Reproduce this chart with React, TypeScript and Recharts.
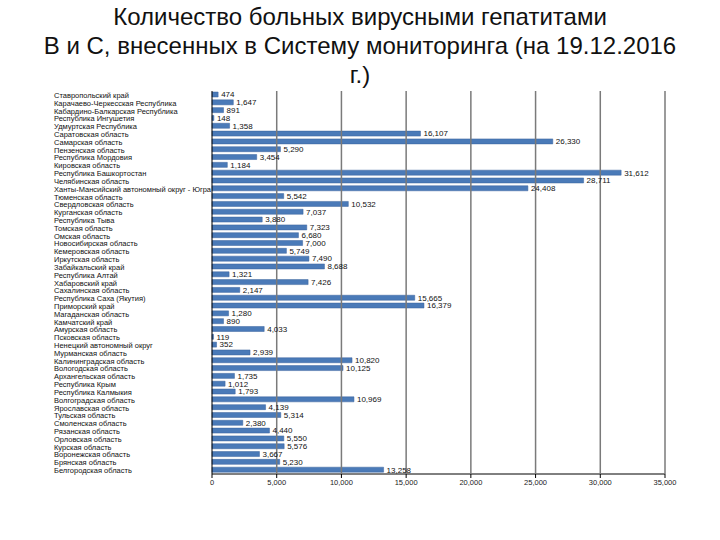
import { BarChart, Bar, XAxis, YAxis, LabelList } from 'recharts';

const regions = [
  'Ставропольский край',
  'Карачаево-Черкесская Республика',
  'Кабардино-Балкарская Республика',
  'Республика Ингушетия',
  'Удмуртская Республика',
  'Саратовская область',
  'Самарская область',
  'Пензенская область',
  'Республика Мордовия',
  'Кировская область',
  'Республика Башкортостан',
  'Челябинская область',
  'Ханты-Мансийский автономный округ - Югра',
  'Тюменская область',
  'Свердловская область',
  'Курганская область',
  'Республика Тыва',
  'Томская область',
  'Омская область',
  'Новосибирская область',
  'Кемеровская область',
  'Иркутская область',
  'Забайкальский край',
  'Республика Алтай',
  'Хабаровский край',
  'Сахалинская область',
  'Республика Саха (Якутия)',
  'Приморский край',
  'Магаданская область',
  'Камчатский край',
  'Амурская область',
  'Псковская область',
  'Ненецкий автономный округ',
  'Мурманская область',
  'Калининградская область',
  'Вологодская область',
  'Архангельская область',
  'Республика Крым',
  'Республика Калмыкия',
  'Волгоградская область',
  'Ярославская область',
  'Тульская область',
  'Смоленская область',
  'Рязанская область',
  'Орловская область',
  'Курская область',
  'Воронежская область',
  'Брянская область',
  'Белгородская область',
];

const patients = [
  474, 1647, 891, 148, 1358, 16107, 26330, 5290, 3454, 1184, 31612, 28711, 24408,
  5542, 10532, 7037, 3880, 7323, 6680, 7000, 5749, 7490, 8688, 1321, 7426, 2147,
  15665, 16379, 1280, 890, 4033, 119, 352, 2939, 10820, 10125, 1735, 1012, 1793,
  10969, 4139, 5314, 2380, 4440, 5550, 5576, 3667, 5230, 13258,
];

const xTicks = [0, 5000, 10000, 15000, 20000, 25000, 30000, 35000];

const data = regions.map((region, i) => ({ region, count: patients[i] }));

const fmt = (v: number) => v.toLocaleString('en-US');

const PLOT_TOP = 91;
const TICK_SIZE = 4;
const FONT = 'Liberation Sans, Arial, sans-serif';

const RegionTick = ({ y, payload }: any) => (
  <text x={54} y={y} dy={3} textAnchor="start" fill="#111" fontSize={7.5} fontFamily={FONT}>
    {payload.value}
  </text>
);

// x tick label plus the vertical gridline above it
const ValueTick = ({ x, y, payload }: any) => (
  <g>
    {payload.value !== 0 && (
      <line x1={x} x2={x} y1={PLOT_TOP} y2={y - TICK_SIZE - 2} stroke="#7a7a7a" strokeWidth={1.5} />
    )}
    <text x={x} y={y} dy="0.71em" textAnchor="middle" fill="#222" fontSize={7.5} fontFamily={FONT}>
      {fmt(payload.value)}
    </text>
  </g>
);

export default function App() {
  return (
    <div style={{ position: 'absolute', left: 0, top: 0, width: 720, height: 540, background: '#fff', fontFamily: '"Liberation Sans", Arial, sans-serif' }}>
      <div style={{ position: 'absolute', top: 2, left: 0, width: 720, textAlign: 'center', fontSize: 24, lineHeight: '29px', color: '#111' }}>
        Количество больных вирусными гепатитами
        <br />
        В и С, внесенных в Систему мониторинга (на 19.12.2016
        <br />
        г.)
      </div>
      <BarChart
        width={720}
        height={540}
        data={data}
        layout="vertical"
        margin={{ top: PLOT_TOP, right: 55, left: 0, bottom: 36 }}
        barSize={5}
      >
        <XAxis
          type="number"
          domain={[0, 35000]}
          ticks={xTicks}
          axisLine={{ stroke: '#000' }}
          tickLine={{ stroke: '#000' }}
          tickSize={TICK_SIZE}
          tick={<ValueTick />}
        />
        <YAxis
          type="category"
          dataKey="region"
          width={212}
          interval={0}
          tick={<RegionTick />}
          axisLine={{ stroke: '#000' }}
          tickLine={false}
        />
        <Bar dataKey="count" fill="#4a7ab8" stroke="#3a639c" strokeWidth={0.5} isAnimationActive={false}>
          <LabelList
            dataKey="count"
            position="right"
            offset={3}
            formatter={(v: any) => fmt(Number(v))}
            style={{ fill: '#111', fontSize: 8, fontFamily: FONT }}
          />
        </Bar>
      </BarChart>
    </div>
  );
}
